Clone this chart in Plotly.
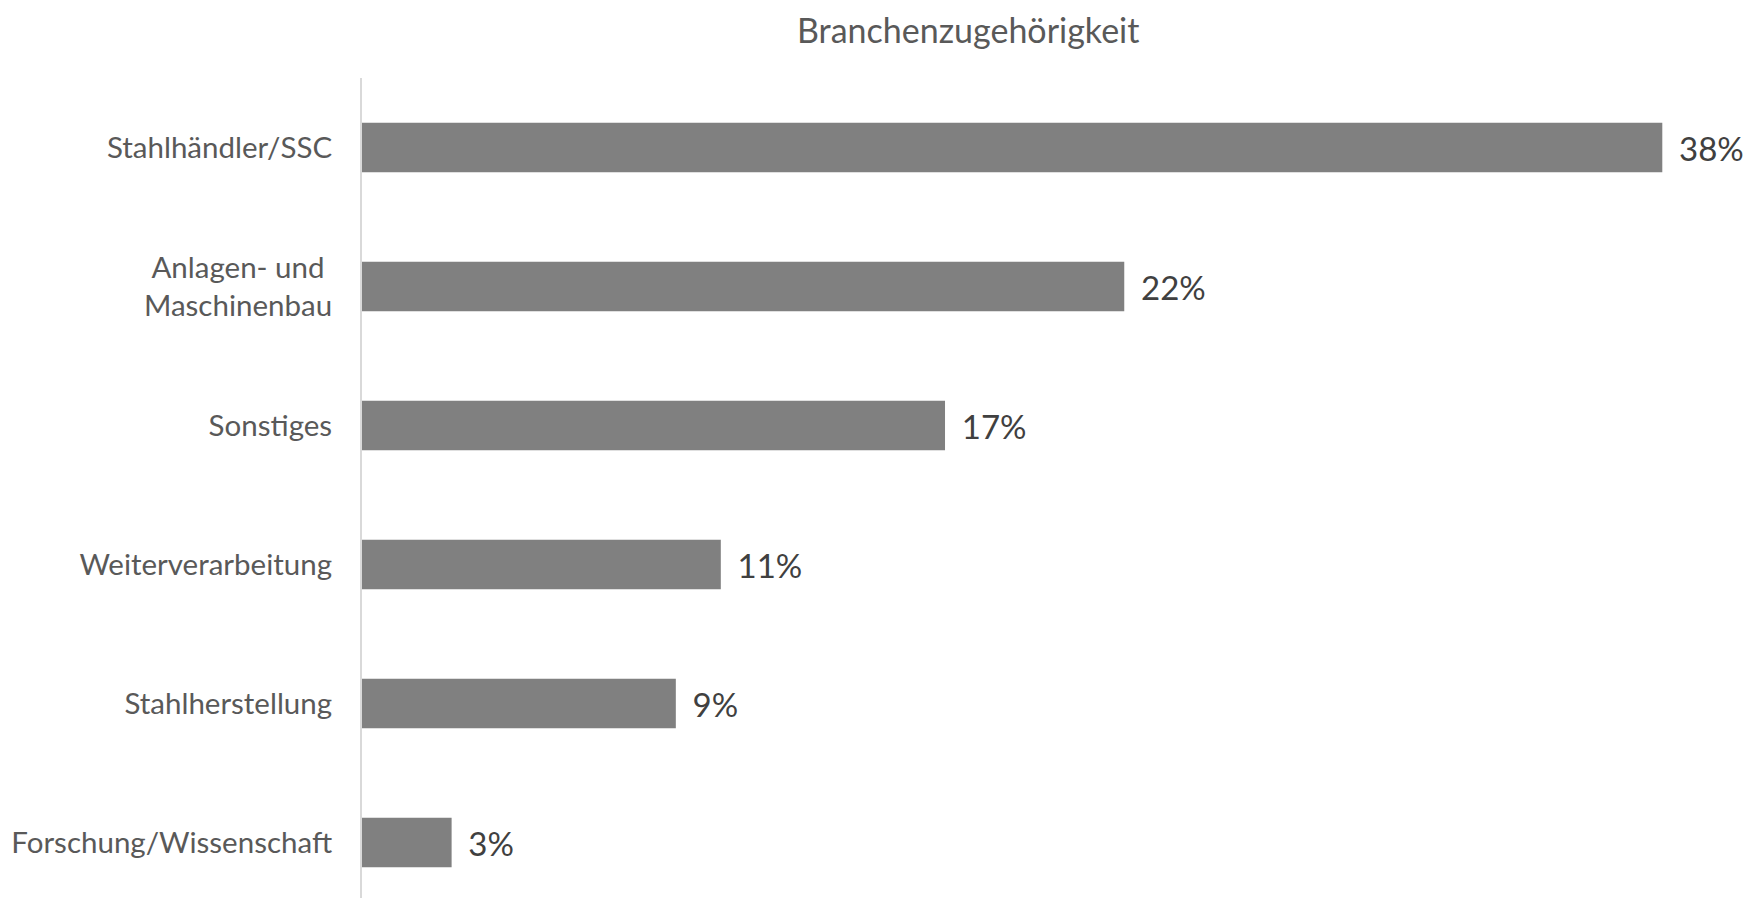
import plotly.graph_objects as go

categories = ["Forschung/Wissenschaft", "Stahlherstellung", "Weiterverarbeitung",
              "Sonstiges", "Anlagen- und <br>Maschinenbau", "Stahlhändler/SSC"]
values = [2.63, 9.21, 10.53, 17.11, 22.37, 38.16]
title_text = "Branchenzugehörigkeit"

fig = go.Figure(go.Bar(
    x=values, y=categories, orientation="h",
    marker=dict(color="#808080", line=dict(width=0)),
    width=0.356,
    texttemplate="\u2005\u2006%{x:.0f}%",
    textposition="outside",
    textfont=dict(family="Lato", size=33, color="#404040"),
    cliponaxis=False,
))

W, H = 1762, 898
ml, mr, mt, mb = 354, 45, 70, 0
fig.update_layout(
    width=W, height=H,
    margin=dict(l=ml, r=mr, t=mt, b=mb),
    paper_bgcolor="white", plot_bgcolor="white",
    showlegend=False,
    font=dict(family="Lato", color="#595959"),
    annotations=[dict(
        text=title_text, xref="paper", yref="paper",
        x=(960 - ml) / (W - ml - mr), y=1 + mt / (H - mt - mb),
        xanchor="center", yanchor="top", showarrow=False,
        borderpad=0,
        font=dict(family="Lato", size=34, color="#595959"),
    )],
    xaxis=dict(range=[0, 40], visible=False, showgrid=False, zeroline=False),
    yaxis=dict(
        type="category", range=[-0.456, 5.5],
        showline=True, linecolor="#d9d9d9", linewidth=2,
        showgrid=False, zeroline=False, ticks="",
        ticklabelstandoff=22,
        tickfont=dict(family="Lato", size=29.5, color="#595959"),
    ),
)

fig.write_html("out.html")
